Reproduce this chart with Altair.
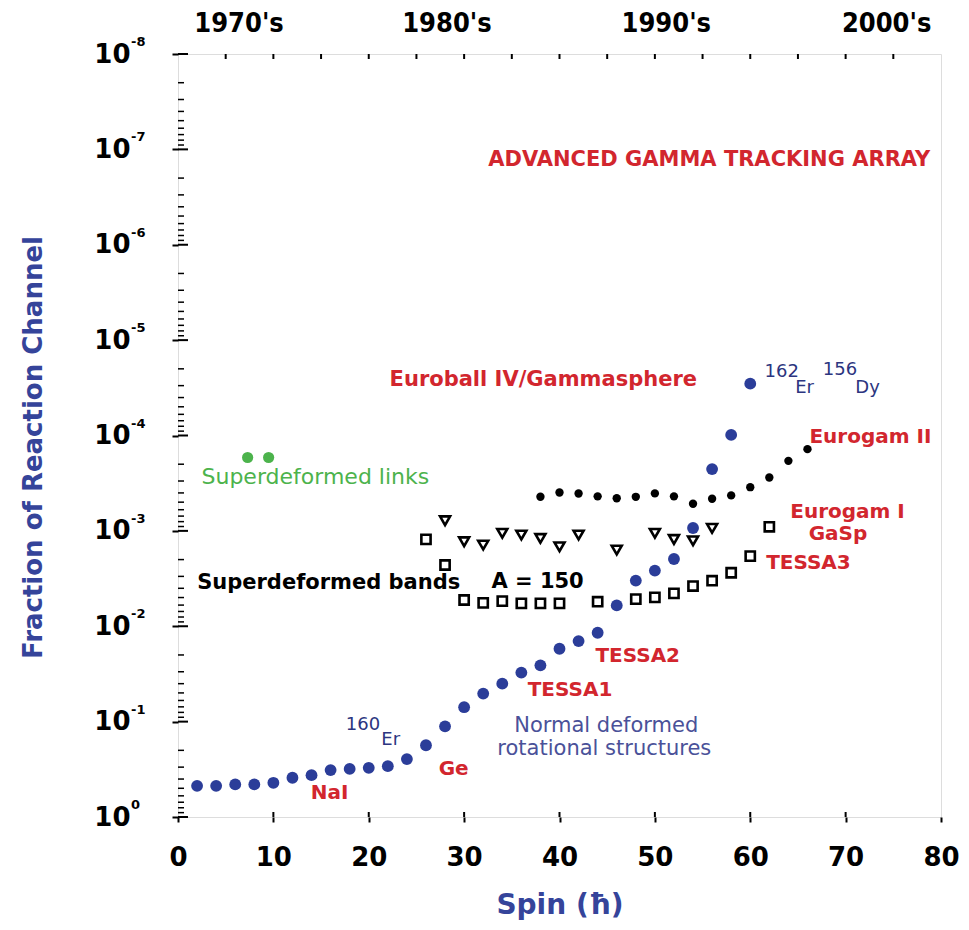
import altair as alt
import pandas as pd

# ---------------- data ----------------
# Normal deformed rotational structures (blue filled circles)
nd_spin = [2, 4, 6, 8, 10, 12, 14, 16, 18, 20, 22, 24, 26, 28, 30,
           32, 34, 36, 38, 40, 42, 44, 46, 48, 50, 52, 54, 56, 58, 60]
nd_frac = [0.471, 0.471, 0.455, 0.455, 0.438, 0.388, 0.364, 0.322, 0.313, 0.305,
           0.293, 0.247, 0.177, 0.112, 0.0706, 0.0508, 0.040, 0.0306, 0.0257, 0.0172,
           0.0143, 0.0117, 0.00605, 0.00332, 0.00261, 0.00197, 0.000933, 0.000225,
           0.0000986, 0.0000286]

# Superdeformed bands (open down triangles)
tri_spin = [28, 30, 32, 34, 36, 38, 40, 42, 46, 50, 52, 54, 56]
tri_frac = [7.83e-4, 1.30e-3, 1.41e-3, 1.06e-3, 1.107e-3, 1.20e-3, 1.47e-3,
            1.107e-3, 1.59e-3, 1.06e-3, 1.23e-3, 1.27e-3, 9.42e-4]

# Superdeformed bands (open squares)
sq_spin = [26, 28, 30, 32, 34, 36, 38, 40, 44, 48, 50, 52, 54, 56, 58, 60, 62]
sq_frac = [1.227e-3, 2.28e-3, 5.31e-3, 5.68e-3, 5.45e-3, 5.75e-3, 5.75e-3, 5.75e-3,
           5.53e-3, 5.19e-3, 4.98e-3, 4.52e-3, 3.79e-3, 3.33e-3, 2.75e-3, 1.84e-3, 9.06e-4]

# Small black filled points (Eurogam II series)
bk_spin = [38, 40, 42, 44, 46, 48, 50, 52, 54, 56, 58, 60, 62, 64, 66]
bk_frac = [4.385e-4, 3.954e-4, 4.055e-4, 4.345e-4, 4.55e-4, 4.395e-4, 4.046e-4,
           4.345e-4, 5.19e-4, 4.60e-4, 4.246e-4, 3.483e-4, 2.754e-4, 1.845e-4, 1.39e-4]

# Superdeformed links (green)
ln_spin = [7.3, 9.5]
ln_frac = [1.7e-4, 1.7e-4]

# axis ticks / labels
decade_vals = [1, 1e-1, 1e-2, 1e-3, 1e-4, 1e-5, 1e-6, 1e-7, 1e-8]
decade_exps = ["0", "-1", "-2", "-3", "-4", "-5", "-6", "-7", "-8"]
x_ticks = [0, 10, 20, 30, 40, 50, 60, 70, 80]
top_ticks = [5, 10, 15, 20, 25, 30, 35, 40, 45, 50, 55, 60, 65, 70, 75]
bottom_inner_ticks = [10, 20, 30, 40, 50, 60, 70]
minor_mult = [2, 3, 4, 5, 6, 7, 8, 9]

era_labels = ["1970's", "1980's", "1990's", "2000's"]
era_spin = [6.4, 28.2, 51.2, 74.3]

# annotations
red_text = ["Eurogam II", "Eurogam I", "GaSp",
            "TESSA3", "TESSA2", "TESSA1", "Ge", "NaI"]
red_spin = [72.6, 70.2, 69.2, 66.1, 48.2, 41.1, 28.9, 15.9]
red_frac = [1.04e-4, 6.3e-4, 1.09e-3, 2.17e-3, 0.0205, 0.0466, 0.314, 0.56]

euroball_text = ["Euroball IV/Gammasphere"]
euroball_spin = [38.3]
euroball_frac = [2.62e-5]

agata_text = ["ADVANCED GAMMA TRACKING ARRAY"]
agata_spin = [55.7]
agata_frac = [1.29e-7]

iso_text = ["160", "Er", "162", "Er", "156", "Dy"]
iso_spin = [19.4, 22.3, 63.3, 65.7, 69.4, 72.3]
iso_frac = [0.108, 0.156, 2.16e-5, 3.18e-5, 2.06e-5, 3.18e-5]

nd_text = ["Normal deformed", "rotational structures"]
nd_tspin = [44.9, 44.7]
nd_tfrac = [0.111, 0.196]

green_text = ["Superdeformed links"]
green_spin = [14.4]
green_frac = [2.72e-4]

black_text = ["Superdeformed bands", "A = 150"]
black_spin = [15.8, 37.7]
black_frac = [3.52e-3, 3.43e-3]

# ---------------- styling ----------------
W, H = 763, 763
RED = "#d2262e"
BLUE = "#2b3d99"
TITLE_BLUE = "#35449a"
TEXT_BLUE = "#4a5199"
ISO_BLUE = "#2c3580"
GREEN = "#4cb34c"
FONT = "DejaVu Sans"

xs = alt.Scale(domain=[0, 80], nice=False, zero=False)
ys = alt.Scale(type="log", domain=[1e-8, 1], reverse=True, nice=False)

x_axis = alt.Axis(values=x_ticks, format="d", labelFont=FONT, labelFontSize=26,
                  labelFontWeight="bold", labelColor="black", labelPadding=22,
                  labelFlush=False, tickSize=5, tickWidth=2, tickColor="black",
                  domain=False, grid=False, title="Spin (ħ)", titleFont=FONT,
                  titleFontSize=28, titleFontWeight="bold", titleColor=TITLE_BLUE,
                  titleX=W / 2, titleY=88, titleAlign="center", titleBaseline="middle")
y_axis = alt.Axis(values=decade_vals, labelExpr="'10'", labelFont=FONT, labelFontSize=26,
                  labelFontWeight="bold", labelColor="black", labelPadding=42,
                  labelOverlap=False, tickSize=6, tickWidth=2, tickColor="black",
                  domain=False, grid=False, title="Fraction of Reaction Channel",
                  titleFont=FONT, titleFontSize=26, titleFontWeight="bold",
                  titleColor=TITLE_BLUE, titleAngle=270, titleX=-145, titleY=393,
                  titleAlign="center", titleBaseline="middle")


def X():
    return alt.X("spin:Q", scale=xs, axis=x_axis)


def Y():
    return alt.Y("frac:Q", scale=ys, axis=y_axis)


def df(s, f, t=None):
    d = {"spin": s, "frac": f}
    if t is not None:
        d["label"] = t
    return pd.DataFrame(d)


layers = []

layers.append(alt.Chart(df(nd_spin, nd_frac)).mark_circle(size=140, color=BLUE, opacity=1)
              .encode(x=X(), y=Y()))
layers.append(alt.Chart(df(bk_spin, bk_frac)).mark_circle(size=70, color="black", opacity=1)
              .encode(x=X(), y=Y()))
layers.append(alt.Chart(df(tri_spin, tri_frac)).mark_point(shape="triangle-down", size=100,
              filled=False, strokeWidth=2.6, color="black", opacity=1)
              .encode(x=X(), y=Y()))
layers.append(alt.Chart(df(sq_spin, sq_frac)).mark_point(shape="square", size=85,
              filled=False, strokeWidth=2.6, color="black", opacity=1)
              .encode(x=X(), y=Y()))
layers.append(alt.Chart(df(ln_spin, ln_frac)).mark_circle(size=125, color=GREEN, opacity=1)
              .encode(x=X(), y=Y()))

# inward y ticks (minor + major)
minor_vals = [m * d / 10 for d in decade_vals[:-1] for m in minor_mult]
layers.append(alt.Chart(pd.DataFrame({"frac": minor_vals})).mark_rule(color="black", strokeWidth=1.5)
              .encode(y=Y(), x=alt.value(0), x2=alt.value(6)))
layers.append(alt.Chart(pd.DataFrame({"frac": decade_vals})).mark_rule(color="black", strokeWidth=2)
              .encode(y=Y(), x=alt.value(0), x2=alt.value(10)))
# top ticks
layers.append(alt.Chart(pd.DataFrame({"spin": top_ticks})).mark_rule(color="black", strokeWidth=2)
              .encode(x=X(), y=alt.value(0), y2=alt.value(5)))
# bottom inward ticks
layers.append(alt.Chart(pd.DataFrame({"spin": bottom_inner_ticks})).mark_rule(color="black", strokeWidth=2)
              .encode(x=X(), y=alt.value(H - 5), y2=alt.value(H)))

# exponents of the y labels
layers.append(alt.Chart(pd.DataFrame({"frac": decade_vals, "label": decade_exps}))
              .mark_text(font=FONT, fontSize=13, fontWeight="bold", color="black",
                         align="left", baseline="middle", dy=-12)
              .encode(y=Y(), x=alt.value(-47), text="label:N"))

# era labels above the plot
layers.append(alt.Chart(pd.DataFrame({"spin": era_spin, "label": era_labels}))
              .mark_text(font="DejaVu Sans Condensed, DejaVu Sans", fontSize=27, fontWeight="bold",
                         color="black", align="center", baseline="middle")
              .encode(x=X(), y=alt.value(-30), text="label:N"))


def text_layer(s, f, t, size, weight, color):
    return (alt.Chart(df(s, f, t))
            .mark_text(font=FONT, fontSize=size, fontWeight=weight, color=color,
                       align="center", baseline="middle")
            .encode(x=X(), y=Y(), text="label:N"))


layers.append(text_layer(red_spin, red_frac, red_text, 20, "bold", RED))
layers.append(text_layer(euroball_spin, euroball_frac, euroball_text, 21, "bold", RED))
layers.append(text_layer(agata_spin, agata_frac, agata_text, 21, "bold", RED))
layers.append(text_layer(iso_spin, iso_frac, iso_text, 18, "normal", ISO_BLUE))
layers.append(text_layer(nd_tspin, nd_tfrac, nd_text, 21, "normal", TEXT_BLUE))
layers.append(text_layer(green_spin, green_frac, green_text, 22, "normal", GREEN))
layers.append(text_layer(black_spin, black_frac, black_text, 21, "bold", "black"))

chart = (alt.layer(*layers)
         .properties(width=W, height=H,
                     autosize=alt.AutoSizeParams(type="none"),
                     padding={"left": 170, "top": 46, "right": 20, "bottom": 108})
         .configure_view(stroke="black", strokeWidth=2.5)
         .configure(background="white"))

chart.save("out.html", embed_options={"renderer": "svg", "actions": False})
